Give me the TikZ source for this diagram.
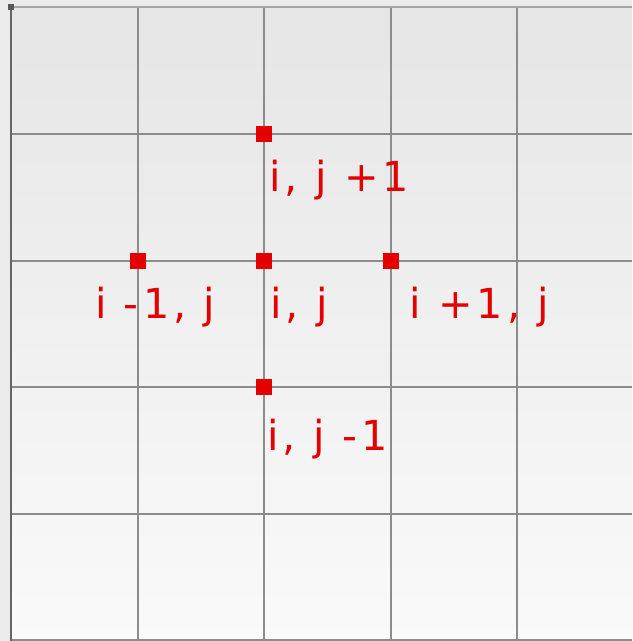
\documentclass[tikz,border=0pt]{standalone}
\usepackage{fontspec}
\newfontfamily\labfont[LetterSpace=10]{DejaVu Sans}
\begin{document}
\begin{tikzpicture}[x=0.75pt,y=-0.75pt,
  gridline/.style={draw=black!45,line width=0.85pt},
  pt/.style={fill=red!90!black,draw=none,minimum size=12pt,inner sep=0pt,shape=rectangle},
  lab/.style={anchor=base west,inner sep=0pt,text=red!90!black,font=\labfont\fontsize{31}{36}\selectfont}]
\useasboundingbox (0,0) rectangle (632,641);
\fill[black!8] (0,0) rectangle (632,641);
\shade[top color=black!10,bottom color=black!2] (11,7) rectangle (632,641);
% grid
\foreach \x in {138,264,391,517} \draw[gridline] (\x,7) -- (\x,641);
\foreach \y in {134,261,387,514,640} \draw[gridline] (11,\y) -- (632,\y);
% border
\draw[draw=black!35,line width=1.5pt] (11,7) -- (632,7);
\draw[draw=black!60,line width=2.2pt] (11,6) -- (11,641);
\fill[black!65] (8,4) rectangle (14,10);
% points
\node[pt] (top) at (264,134) {};
\node[pt] (left) at (138,261) {};
\node[pt] (center) at (264,261) {};
\node[pt] (right) at (391,261) {};
\node[pt] (bottom) at (264,387) {};
% labels
\node[lab] (ltop) at (269,192) {i, j +1};
\node[lab] (lleft) at (95,318) {i -1, j};
\node[lab] (lcenter) at (270,318) {i, j};
\node[lab] (lright) at (409,318) {i +1, j};
\node[lab] (lbottom) at (267,450) {i, j -1};
\end{tikzpicture}
\end{document}
